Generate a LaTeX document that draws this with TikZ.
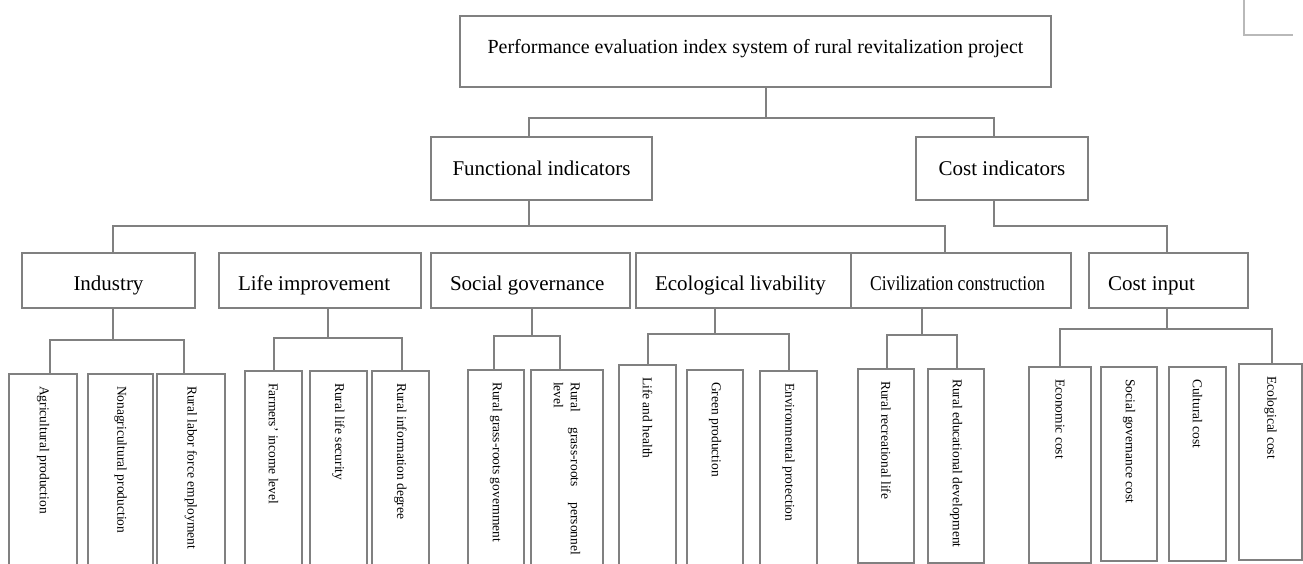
\documentclass[tikz,border=0pt]{standalone}
\usepackage{fontspec}
\setmainfont{Liberation Serif}
\newfontfamily\narrowserif[FakeStretch=0.84]{Liberation Serif}

\definecolor{linegray}{RGB}{128,128,128}
\definecolor{markgray}{RGB}{185,185,185}

\tikzset{
  box/.style={draw=linegray, line width=2pt, inner sep=0pt,
              font=\fontsize{21}{25}\selectfont},
  group/.style={box, minimum height=55pt, align=flush left, inner xsep=19pt,
                text height=21pt, text depth=1pt},
  leaf/.style={draw=linegray, line width=2pt, rotate=-90, anchor=west,
               align=flush left, inner xsep=12pt, inner ysep=0pt,
               font=\fontsize{13.5}{17}\selectfont},
  link/.style={draw=linegray, line width=2pt},
}

\begin{document}
\begin{tikzpicture}[x=1pt, y=-1pt]
\useasboundingbox (0,0) rectangle (1303,563); % page size
\clip (0,0) rectangle (1303,563);

\draw [markgray, line width=1.5pt] (1244,0) -- (1244,35) -- (1293,35);

\node [box, minimum width=591pt, minimum height=71pt, text height=14pt, text depth=11pt,
       font=\fontsize{20}{24}\selectfont] (root) at (755.5,51.5)
      {Performance evaluation index system of rural revitalization project};

\node [box, minimum width=221pt, minimum height=63pt] (func) at (541.5,168.5) {Functional indicators};
\node [box, minimum width=172pt, minimum height=63pt] (cost) at (1002,168.5) {Cost indicators};

\node [group, align=flush center, text width=135pt] (industry) at (108.5,280.5) {Industry};
\node [group, text width=164pt] (life) at (320,280.5) {Life improvement};
\node [group, text width=161pt] (social) at (530.5,280.5) {Social governance};
\node [group, text width=177pt] (eco) at (743.5,280.5) {Ecological livability};
\node [group, text width=182pt, font=\narrowserif\fontsize{21}{25}\selectfont] (civil) at (961,280.5)
      {Civilization construction};
\node [group, text width=121pt] (costin) at (1168.5,280.5) {Cost input};

% leaves, anchored at their top edge
\node [leaf, minimum height=68pt, text width=203pt] (agri) at (43,373) {Agricultural production};
\node [leaf, minimum height=65pt, text width=203pt] (nonagri) at (120.5,373) {Nonagricultural production};
\node [leaf, minimum height=68pt, text width=203pt] (labor) at (191,373) {Rural labor force employment};

\node [leaf, minimum height=57pt, text width=206pt] (income) at (273.5,370) {Farmers' income level};
\node [leaf, minimum height=57pt, text width=206pt] (security) at (338.5,370) {Rural life security};
\node [leaf, minimum height=57pt, text width=206pt] (inform) at (400.5,370) {Rural information degree};

\node [leaf, minimum height=56pt, text width=207pt] (govern) at (496,369) {Rural grass-roots government};
\node [leaf, minimum height=72pt, text width=173pt] (staff) at (567,369)
      {Rural\hfill grass-roots\hfill personnel\\level};

\node [leaf, minimum height=57pt, text width=212pt] (health) at (647.5,364) {Life and health};
\node [leaf, minimum height=56pt, text width=207pt] (green) at (715,369) {Green production};
\node [leaf, minimum height=57pt, text width=206pt] (envir) at (788.5,370) {Environmental protection};

\node [leaf, minimum height=56pt, text width=170pt] (recre) at (886,368) {Rural recreational life};
\node [leaf, minimum height=56pt, inner xsep=10pt, text width=174pt] (educ) at (956,368)
      {Rural educational development};

\node [leaf, minimum height=62pt, text width=172pt] (econ) at (1060,366) {Economic cost};
\node [leaf, minimum height=56pt, text width=170pt] (govcost) at (1129,366) {Social governance cost};
\node [leaf, minimum height=57pt, text width=170pt] (cult) at (1197.5,366) {Cultural cost};
\node [leaf, minimum height=63pt, text width=172pt] (ecocost) at (1270.5,363) {Ecological cost};

% tree links
\draw [link] ([xshift=10.5pt]root.south) -- ++(0,30) coordinate (j0);
\draw [link] ([xshift=-12.5pt]func.north) |- (j0) -| ([xshift=-8pt]cost.north);

\draw [link] ([xshift=-12.5pt]func.south) -- ++(0,25) coordinate (j1);
\draw [link] ([xshift=4.5pt]industry.north) |- (j1) -| ([xshift=-16pt]civil.north);
\draw [link] ([xshift=-8pt]cost.south) -- ++(0,25) -| ([xshift=-1.5pt]costin.north);

\draw [link] ([xshift=4.5pt]industry.south) -- ++(0,31) coordinate (j2);
\draw [link] ([xshift=7pt]agri.west) |- (j2) -| ([xshift=-7pt]labor.west);

\draw [link] ([xshift=8pt]life.south) -- ++(0,29) coordinate (j3);
\draw [link] (income.west) |- (j3) -| ([xshift=1.5pt]inform.west);

\draw [link] ([xshift=1.5pt]social.south) -- ++(0,27) coordinate (j4);
\draw [link] ([xshift=-2pt]govern.west) |- (j4) -| ([xshift=-7pt]staff.west);

\draw [link] ([xshift=-28.5pt]eco.south) -- ++(0,25) coordinate (j5);
\draw [link] (health.west) |- (j5) -| (envir.west);

\draw [link] ([xshift=-39pt]civil.south) -- ++(0,26) coordinate (j6);
\draw [link] ([xshift=1pt]recre.west) |- (j6) -| ([xshift=1pt]educ.west);

\draw [link] ([xshift=-1.5pt]costin.south) -- ++(0,20) coordinate (j7);
\draw [link] (econ.west) |- (j7) -| ([xshift=1.5pt]ecocost.west);
\end{tikzpicture}
\end{document}
